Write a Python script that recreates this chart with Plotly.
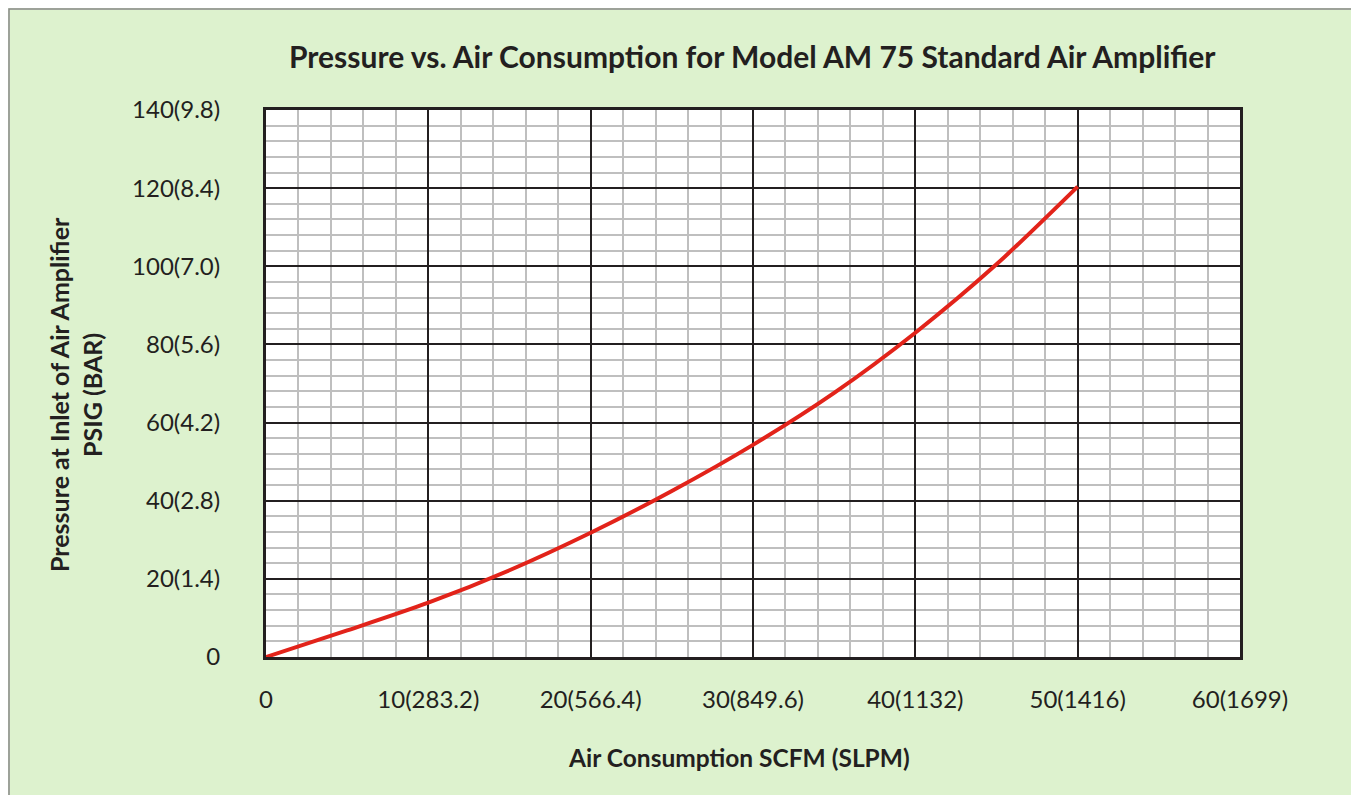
import plotly.graph_objects as go

# Data
scfm = [0, 5, 10, 15, 20, 25, 30, 35, 40, 45, 50]
psig = [0, 6.8, 13.9, 22.2, 31.8, 42.5, 54.3, 67.6, 83.0, 100.5, 120.4]

x_tickvals = [0, 10, 20, 30, 40, 50, 60]
x_ticktext = ["0", "10(283.2)", "20(566.4)", "30(849.6)", "40(1132)", "50(1416)", "60(1699)"]
y_tickvals = [0, 20, 40, 60, 80, 100, 120, 140]
y_ticktext = ["0", "20(1.4)", "40(2.8)", "60(4.2)", "80(5.6)", "100(7.0)", "120(8.4)", "140(9.8)"]

title_text = "Pressure vs. Air Consumption for Model AM 75 Standard Air Amplifier"
x_title = "Air Consumption SCFM (SLPM)"
y_title = "Pressure at Inlet of Air Amplifier<br>PSIG (BAR)"

FONT = "Lato"
DARK = "#231F20"
BG = "#DDF2CE"

OFF = 8  # page body margin
L, R, T, B = 266 - OFF, 1240 - OFF, 110 - OFF, 657 - OFF
W, H = 1359 - OFF, 795 - OFF
PW, PH = R - L, B - T

fig = go.Figure()
fig.add_trace(go.Scatter(
    x=scfm, y=psig, mode="lines",
    line=dict(color="#E2231A", width=4, shape="spline", smoothing=0.8),
    showlegend=False, hoverinfo="skip",
))

fig.update_layout(
    width=W, height=H,
    paper_bgcolor=BG, plot_bgcolor="white",
    margin=dict(l=L, r=W - R, t=T, b=H - B),
    font=dict(family=FONT, color=DARK, size=24),
    showlegend=False,
)

fig.update_xaxes(
    range=[0, 60], tickvals=x_tickvals, ticktext=x_ticktext,
    showgrid=True, gridcolor=DARK, gridwidth=1.5,
    minor=dict(dtick=2, showgrid=True, gridcolor="#BFBFBF", gridwidth=2),
    showline=True, linecolor=DARK, linewidth=3, mirror=True,
    zeroline=False, ticks="", ticklabelstandoff=19,
    tickfont=dict(family=FONT, size=24, color=DARK),
)
fig.update_yaxes(
    range=[0, 140], tickvals=y_tickvals, ticktext=y_ticktext,
    showgrid=True, gridcolor=DARK, gridwidth=1.5,
    minor=dict(dtick=4, showgrid=True, gridcolor="#BFBFBF", gridwidth=2),
    showline=True, linecolor=DARK, linewidth=3, mirror=True,
    zeroline=False, ticks="", ticklabelstandoff=38,
    tickfont=dict(family=FONT, size=24, color=DARK),
)

def px_x(px):
    return (px - OFF - L) / PW

def px_y(py):
    return (B - (py - OFF)) / PH

fig.add_annotation(
    text=f"<b>{title_text}</b>", xref="paper", yref="paper",
    x=px_x(752), y=px_y(56),
    showarrow=False, font=dict(family=FONT, size=30, color=DARK),
    xanchor="center", yanchor="middle",
)
fig.add_annotation(
    text=f"<b>{x_title}</b>", xref="paper", yref="paper",
    x=px_x(739), y=px_y(757),
    showarrow=False, font=dict(family=FONT, size=24.5, color=DARK),
    xanchor="center", yanchor="middle",
)
fig.add_annotation(
    text=f"<b>{y_title}</b>", xref="paper", yref="paper",
    x=px_x(75), y=px_y(395),
    showarrow=False, textangle=-90, font=dict(family=FONT, size=25, color=DARK),
    xanchor="center", yanchor="middle",
)

# page border
fig.add_shape(
    type="rect", xref="paper", yref="paper",
    x0=px_x(9), x1=px_x(1357), y0=px_y(810), y1=px_y(9),
    line=dict(color="#888888", width=1.5), fillcolor="rgba(0,0,0,0)", layer="below",
)

fig.write_html("out.html")
